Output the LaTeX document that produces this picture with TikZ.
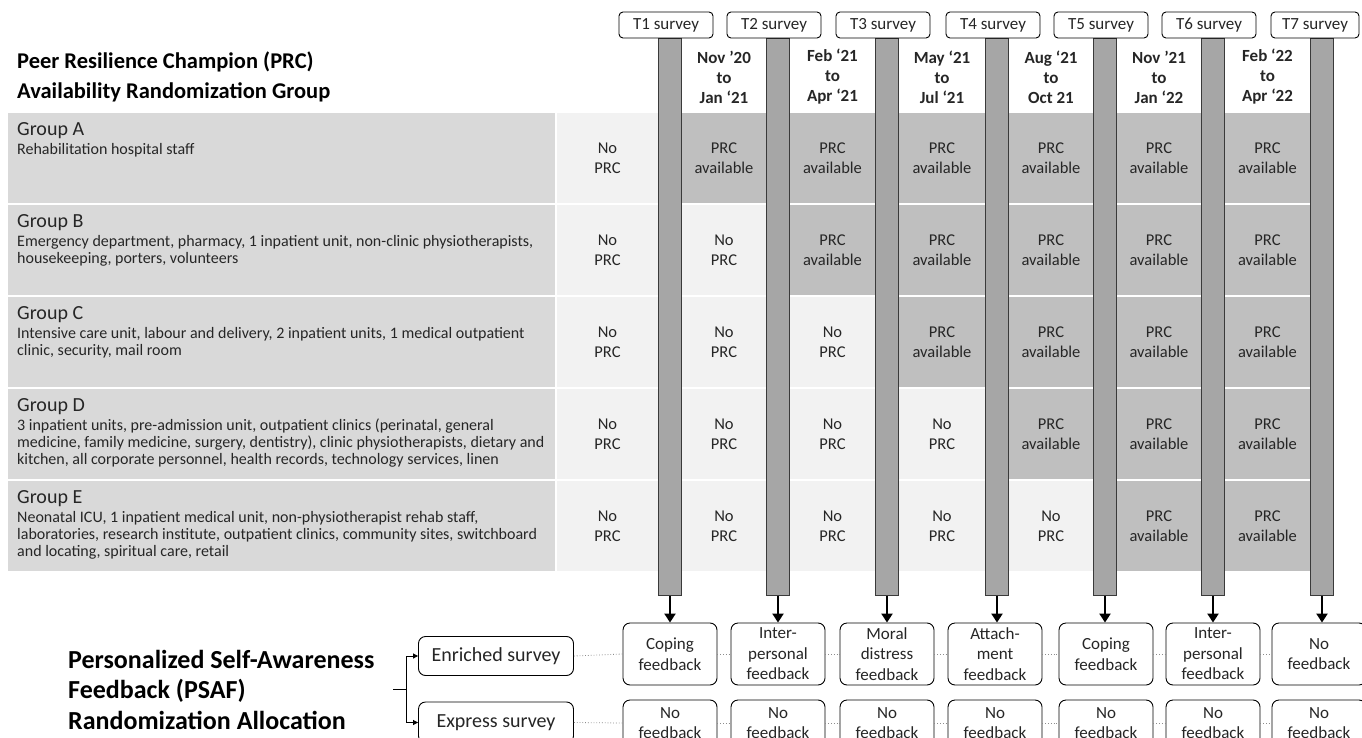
\documentclass[tikz,border=0pt]{standalone}
\usepackage{fontspec}
\setmainfont{Carlito}
\usetikzlibrary{arrows.meta}
\definecolor{labgray}{HTML}{D9D9D9}
\definecolor{nogray}{HTML}{F2F2F2}
\definecolor{yesgray}{HTML}{BFBFBF}
\definecolor{bargray}{HTML}{A6A6A6}
\definecolor{bardraw}{HTML}{3A3A3A}
\definecolor{txt}{HTML}{262626}
\definecolor{dotgray}{HTML}{8C8C8C}
\newcommand\myfs[2]{\fontsize{#1}{#2}\selectfont}
\begin{document}
\begin{tikzpicture}[x=1pt,y=-1pt,
  lab/.style={fill=labgray, minimum width=547, minimum height=90, inner sep=0, anchor=west},
  cellno/.style={fill=nogray, text=txt, align=center, minimum height=90, inner sep=0, font=\myfs{16.5}{20}},
  cellyes/.style={cellno, fill=yesgray},
  gname/.style={anchor=west, inner sep=0, text=txt, font=\myfs{20}{24}},
  gdesc/.style={anchor=north west, inner sep=0, align=left, text=txt, font=\myfs{16}{17}},
  ttl/.style={anchor=base west, inner sep=0, text=black, font=\bfseries\myfs{22.5}{26}},
  ttlb/.style={ttl, font=\bfseries\myfs{26}{30}},
  tbar/.style={draw=bardraw, fill=bargray, line width=0.9, minimum width=23, minimum height=557, inner sep=0, anchor=north},
  survey/.style={draw=black, fill=white, rounded corners=4, line width=0.9, minimum width=94, minimum height=26, inner sep=0, font=\myfs{17}{20}, text=txt},
  datehdr/.style={align=center, inner sep=0, font=\bfseries\myfs{17}{20}, text=txt},
  fb/.style={draw=black, fill=white, rounded corners=7, line width=0.9, minimum width=94, minimum height=62, inner sep=0, align=center, font=\myfs{17}{20.5}, text=txt},
  xfb/.style={fb, minimum height=46},
  arm/.style={draw=black, fill=white, rounded corners=7, line width=0.9, minimum width=155, minimum height=39, inner sep=0, font=\myfs{20}{24}, text=txt},
  dotc/.style={draw=dotgray, dotted, line width=0.8},
  dn/.style={-{Triangle[width=11,length=9]}, line width=2.4},
  brk/.style={line width=0.9, -{Triangle[width=5,length=5]}},
]
\fill[white] (0,0) rectangle (1362,738);
\useasboundingbox (0,0) rectangle (1362,738);

% titles
\node[ttl] (t1a) at (17,69) {Peer Resilience Champion (PRC)};
\node[ttl] (t1b) at (17,99) {Availability Randomization Group};

% table rows
\foreach \r/\n in {0/1,1/2,2/3,3/4,4/5}{
  \pgfmathsetmacro\ty{113+92*\r+45}
  \node[lab] (g\r) at (8,\ty) {};
  \foreach \c/\cx/\cw in {0/607.5/101, 1/724/108, 2/832.5/109, 3/942/110, 4/1051/108, 5/1159/108, 6/1267.5/109}{
    \ifnum\c<\n
      \node[cellno, minimum width=\cw] (c\r\c) at (\cx,\ty) {No\\PRC};
    \else
      \node[cellyes, minimum width=\cw] (c\r\c) at (\cx,\ty) {PRC\\available};
    \fi
  }
}

% group labels
\node[gname] (gnA) at (17,131) {Group A};
\node[gdesc] (gdA) at (17,143) {Rehabilitation hospital staff};
\node[gname] (gnB) at (17,223) {Group B};
\node[gdesc] (gdB) at (17,235) {Emergency department, pharmacy, 1 inpatient unit, non-clinic physiotherapists,\\housekeeping, porters, volunteers};
\node[gname] (gnC) at (17,315) {Group C};
\node[gdesc] (gdC) at (17,327) {Intensive care unit, labour and delivery, 2 inpatient units, 1 medical outpatient\\clinic, security, mail room};
\node[gname] (gnD) at (17,407) {Group D};
\node[gdesc] (gdD) at (17,419) {3 inpatient units, pre-admission unit, outpatient clinics (perinatal, general\\medicine, family medicine, surgery, dentistry), clinic physiotherapists, dietary and\\kitchen, all corporate personnel, health records, technology services, linen};
\node[gname] (gnE) at (17,499) {Group E};
\node[gdesc] (gdE) at (17,511) {Neonatal ICU, 1 inpatient medical unit, non-physiotherapist rehab staff,\\laboratories, research institute, outpatient clinics, community sites, switchboard\\and locating, spiritual care, retail};

% date headers
\node[datehdr] (d1) at (724,77) {Nov ’20\\to\\Jan ‘21};
\node[datehdr] (d2) at (832.5,77) {Feb ‘21\\to\\Apr ‘21};
\node[datehdr] (d3) at (942,77) {May ‘21\\to\\Jul ‘21};
\node[datehdr] (d4) at (1051,77) {Aug ‘21\\to\\Oct 21};
\node[datehdr] (d5) at (1159,77) {Nov ’21\\to\\Jan ‘22};
\node[datehdr] (d6) at (1267.5,77) {Feb ‘22\\to\\Apr ‘22};

% bars
\foreach \i/\bx in {1/670,2/778,3/887,4/997,5/1105,6/1213,7/1322}{
  \node[tbar] (b\i) at (\bx,38) {};
}
% survey boxes
\foreach \i/\sx in {1/666,2/774,3/883,4/993,5/1101,6/1209}{
  \node[survey] (s\i) at (\sx,25) {T\i\ survey};
}
\node[survey, minimum width=88] (s7) at (1315,25) {T7 survey};

% feedback boxes (enriched)
\node[fb] (e1) at (670,654) {Coping\\feedback};
\node[fb] (e2) at (778,654) {Inter-\\personal\\feedback};
\node[fb] (e3) at (887,654) {Moral\\distress\\feedback};
\node[fb] (e4) at (995,654) {Attach-\\ment\\feedback};
\node[fb] (e5) at (1106,654) {Coping\\feedback};
\node[fb] (e6) at (1213,654) {Inter-\\personal\\feedback};
\node[fb] (e7) at (1319,654) {No\\feedback};
% feedback boxes (express)
\foreach \i/\fx in {1/670,2/778,3/887,4/995,5/1106,6/1213,7/1319}{
  \node[xfb] (x\i) at (\fx,723) {No\\feedback};
}

% arrows from bars
\foreach \i in {1,...,7}{
  \draw[dn] (b\i.south) -- (b\i.south |- e\i.north);
}

% arms
\node[arm] (enr) at (496,656) {Enriched survey};
\node[arm, minimum height=41] (exs) at (496,722.5) {Express survey};

% dotted connectors
\draw[dotc] (enr.east) -- (e1.west);
\draw[dotc] (exs.east) -- (x1.west);
\foreach \i/\j in {1/2,2/3,3/4,4/5,5/6,6/7}{
  \draw[dotc] (e\i.east) -- (e\j.west);
  \draw[dotc] (x\i.east) -- (x\j.west);
}

% bracket
\coordinate (bk) at (406,689);
\coordinate (bs) at (393,689);
\draw[line width=0.9] (bs) -- (bk);
\draw[brk] (bk) |- (enr.west);
\draw[brk] (bk) |- (exs.west);

% PSAF title
\node[ttlb] (t2a) at (68,668) {Personalized Self-Awareness};
\node[ttlb] (t2b) at (68,698) {Feedback (PSAF)};
\node[ttlb] (t2c) at (68,729) {Randomization Allocation};
\end{tikzpicture}
\end{document}
